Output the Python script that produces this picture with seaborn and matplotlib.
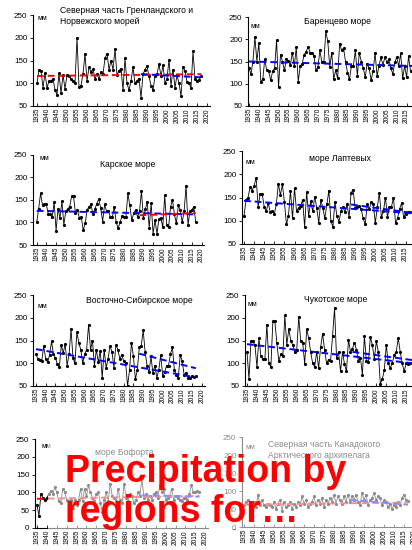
import numpy as np
import pandas as pd
import matplotlib
matplotlib.use("Agg")
import matplotlib.pyplot as plt
import seaborn as sns
from matplotlib.patches import Rectangle

# ---------------- data ----------------
start_year = 1935

greenland_vals = [100, 130, 128, 90, 122, 90, 105, 105, 110, 85,
                  75, 122, 78, 118, 88, 118, 115, 110, 105, 100,
                  200, 92, 95, 120, 165, 105, 135, 125, 132, 110,
                  120, 110, 125, 120, 155, 165, 130, 150, 130, 175,
                  118, 128, 132, 85, 155, 100, 85, 105, 135, 100,
                  105, 110, 68, 120, 130, 138, 115, 95, 85, 115,
                  120, 142, 115, 140, 100, 110, 152, 95, 130, 90,
                  118, 100, 72, 135, 128, 102, 100, 90, 170, 110,
                  105, 108, 115]
barents_vals = [135, 122, 150, 205, 150, 192, 105, 110, 155, 130,
                128, 108, 128, 135, 198, 92, 165, 150, 130, 155,
                152, 142, 170, 140, 182, 105, 140, 145, 165, 172,
                183, 170, 170, 162, 130, 138, 175, 148, 148, 218,
                195, 138, 170, 110, 130, 112, 190, 175, 180, 150,
                125, 110, 140, 140, 175, 118, 170, 150, 135, 115,
                145, 135, 108, 128, 170, 118, 140, 160, 142, 160,
                148, 155, 135, 122, 148, 160, 140, 168, 112, 140,
                115, 162, 128]
kara_vals = [100, 130, 165, 138, 140, 140, 118, 118, 112, 145,
             82, 130, 110, 147, 95, 125, 130, 135, 158, 158,
             120, 128, 110, 112, 83, 98, 128, 135, 140, 118,
             130, 142, 152, 132, 102, 140, 125, 125, 112, 112,
             135, 100, 88, 100, 115, 112, 112, 165, 138, 105,
             120, 128, 112, 125, 170, 110, 130, 145, 88, 143,
             75, 105, 75, 108, 110, 90, 160, 95, 90, 135,
             150, 118, 98, 138, 128, 100, 125, 182, 95, 125,
             128, 135, 100]
laptev_vals = [110, 145, 150, 172, 165, 175, 193, 130, 158, 157,
               130, 120, 138, 118, 120, 115, 135, 180, 155, 178,
               140, 92, 110, 165, 105, 170, 120, 128, 132, 145,
               87, 162, 110, 142, 120, 152, 128, 95, 145, 128,
               105, 135, 165, 100, 87, 140, 110, 98, 120, 130,
               118, 135, 108, 160, 167, 128, 130, 132, 125, 105,
               92, 135, 125, 140, 135, 95, 130, 160, 108, 120,
               150, 108, 130, 130, 150, 95, 105, 125, 138, 108,
               115, 118, 118]
esib_vals = [120, 110, 108, 105, 138, 110, 102, 118, 148, 120,
             112, 98, 92, 140, 122, 143, 95, 120, 175, 112,
             100, 168, 145, 130, 100, 120, 130, 185, 130, 150,
             95, 130, 102, 128, 68, 130, 90, 110, 138, 125,
             90, 140, 130, 110, 118, 105, 100, 50, 85, 145,
             115, 65, 85, 135, 138, 172, 125, 95, 80, 115,
             78, 95, 68, 85, 118, 72, 80, 95, 95, 120,
             135, 85, 75, 68, 118, 105, 75, 78, 68, 68,
             72, 70, 72]
chukchi_vals = [125, 65, 148, 148, 140, 92, 155, 115, 110, 110,
                185, 100, 92, 192, 192, 145, 105, 120, 115, 205,
                140, 175, 150, 140, 125, 130, 202, 148, 145, 98,
                175, 155, 125, 100, 92, 125, 90, 135, 165, 130,
                100, 108, 105, 160, 222, 112, 125, 82, 125, 98,
                82, 152, 125, 132, 145, 130, 105, 112, 75, 160,
                105, 102, 158, 140, 110, 148, 125, 55, 65, 85,
                140, 100, 90, 100, 118, 125, 155, 125, 100, 82,
                100, 98, 100]
beaufort_vals = [65, 35, 95, 85, 80, 85, 95, 105, 95, 115,
                 100, 75, 70, 110, 100, 80, 75, 80, 55, 80,
                 65, 80, 110, 75, 110, 90, 120, 100, 85, 75,
                 95, 100, 70, 45, 80, 100, 75, 125, 90, 85,
                 75, 110, 80, 70, 125, 85, 75, 95, 90, 70,
                 80, 100, 90, 140, 85, 95, 80, 90, 80, 95,
                 100, 85, 120, 100, 110, 80, 85, 90, 110, 80,
                 90, 85, 80, 75, 85, 85, 80, 95, 120, 100,
                 100, 105, 100]
canada_vals = [60, 70, 75, 65, 50, 70, 55, 90, 60, 75,
               60, 55, 65, 60, 55, 70, 50, 65, 75, 45,
               70, 55, 60, 70, 50, 65, 55, 70, 60, 85,
               65, 75, 55, 65, 70, 85, 60, 75, 65, 80,
               55, 75, 65, 80, 70, 90, 65, 85, 75, 65,
               85, 70, 90, 70, 85, 75, 90, 70, 60, 95,
               75, 90, 60, 75, 80, 95, 75, 85, 80, 60,
               75, 70, 55, 65, 50, 60, 55, 70, 60, 80,
               90, 75, 72]

titles = ["Северная часть Гренландского и\nНорвежского морей",
          "Баренцево море",
          "Карское море",
          "море Лаптевых",
          "Восточно-Сибирское море",
          "Чукотское море",
          "море Бофорта",
          "Северная часть Канадокого\nАрктического архипелага"]

series = [greenland_vals, barents_vals, kara_vals, laptev_vals,
          esib_vals, chukchi_vals, beaufort_vals, canada_vals]

# trend lines: (year0, year1, value0, value1, colour key)
trends = [
    [(1935, 2017, 116, 120, "r"), (1987, 2017, 120, 113, "b")],
    [(1935, 2018, 150, 140, "b")],
    [(1935, 2017, 126, 118, "b"), (1988, 2017, 116, 121, "r")],
    [(1935, 2018, 143, 116, "b"), (1988, 2018, 135, 117, "b")],
    [(1935, 2017, 131, 69, "b"), (1988, 2017, 121, 89, "b")],
    [(1935, 2018, 142, 100, "b"), (1988, 2018, 125, 107, "b")],
    [(1935, 2017, 82, 90, "r"), (1988, 2017, 92, 88, "b")],
    [(1935, 2017, 62, 68, "r"), (1988, 2017, 75, 62, "b")],
]

yticks_main = [50, 100, 150, 200, 250]
yticks_low = [0, 50, 100, 150, 200, 250]
xtick_years = list(range(1935, 2021, 5))

overlay_line1 = "Precipitation by"
overlay_line2 = "regions for…"

# ---------------- layout (pixels) ----------------
W, H = 412, 550
# left_px, top_px, bottom_px, year_at_left, px_per_year, ymin, ymax
layout = [
    (33, 15, 106, 1933.0, 2.00, 50, 250),
    (248, 17, 106, 1934.5, 1.97, 50, 250),
    (33, 155, 245, 1933.1, 1.94, 50, 250),
    (242, 151, 244, 1934.0, 2.02, 50, 250),
    (33, 295, 386, 1933.5, 1.95, 50, 250),
    (245, 295, 386, 1934.0, 1.99, 50, 250),
    (35, 439, 528, 1934.0, 1.98, 0, 250),
    (242, 437, 527, 1934.0, 2.00, 0, 250),
]
title_pos = [(60, 6, "left"), (337, 17, "center"), (128, 160, "center"),
             (340, 154, "center"), (139, 296, "center"), (336, 295, "center"),
             (124, 448, "center"), (268, 440, "left")]
mm_pos = [(38, 15), (251, 23), (39, 155), (246, 159), (37, 303),
          (248, 301), (42, 443), (246, 444)]

sns.set_theme(style="ticks")
plt.rcParams['font.family'] = ['Liberation Sans', 'DejaVu Sans']

fig = plt.figure(figsize=(W / 100, H / 100), dpi=100)
fig.patch.set_facecolor("white")

colors = {"r": "#FF0000", "b": "#0000FF"}

for i, vals in enumerate(series):
    left, top, bottom, yl, ppy, ymin, ymax = layout[i]
    width_px = (2021.5 - yl) * ppy
    ax = fig.add_axes([left / W, 1 - bottom / H, width_px / W, (bottom - top) / H])
    ax.set_facecolor("none")
    years = np.arange(start_year, start_year + len(vals))
    df = pd.DataFrame({"year": years, "mm": vals})
    sns.lineplot(data=df, x="year", y="mm", ax=ax, color="black", lw=0.6,
                 marker="o", markersize=2.3, markeredgewidth=0, zorder=3)
    for (y0, y1, v0, v1, c) in trends[i]:
        ax.plot([y0, y1], [v0, v1], color=colors[c], lw=1.4,
                linestyle=(0, (3.5, 2)), zorder=4)
    ax.set_xlim(yl, 2021.5)
    ax.set_ylim(ymin, ymax)
    ax.set_yticks(yticks_main if ymin == 50 else yticks_low)
    ax.set_xticks(xtick_years)
    ax.set_xticklabels([str(y) for y in xtick_years], rotation=90, fontsize=4.7)
    ax.tick_params(axis="y", labelsize=5.8, length=2.5, width=0.6, pad=1.5,
                   direction="out", colors="black")
    ax.tick_params(axis="x", length=2.5, width=0.6, pad=1.5, direction="in",
                   colors="black")
    ax.set_xlabel("")
    ax.set_ylabel("")
    for s in ["top", "right"]:
        ax.spines[s].set_visible(False)
    for s in ["left", "bottom"]:
        ax.spines[s].set_color("black")
        ax.spines[s].set_linewidth(0.8)
    tx, ty, ha = title_pos[i]
    fig.text(tx / W, 1 - ty / H, titles[i], fontsize=6.2, ha=ha, va="top",
             color="black", linespacing=1.25)
    mx, my = mm_pos[i]
    fig.text(mx / W, 1 - my / H, "мм", fontsize=5.0, ha="left", va="top",
             color="black")

# semi-transparent white box that fades the bottom panels
rect = Rectangle((48 / W, 1 - 529 / H), (W - 48) / W, (529 - 428) / H,
                 transform=fig.transFigure, facecolor="white", edgecolor="none",
                 alpha=0.55, zorder=10)
fig.add_artist(rect)

fig.text(65 / W, 1 - 482 / H, overlay_line1, fontsize=27, fontweight="bold",
         color="#FF0000", ha="left", va="baseline", zorder=11)
fig.text(65 / W, 1 - 522 / H, overlay_line2, fontsize=27, fontweight="bold",
         color="#FF0000", ha="left", va="baseline", zorder=11)

fig.savefig("out.png", dpi=100)
